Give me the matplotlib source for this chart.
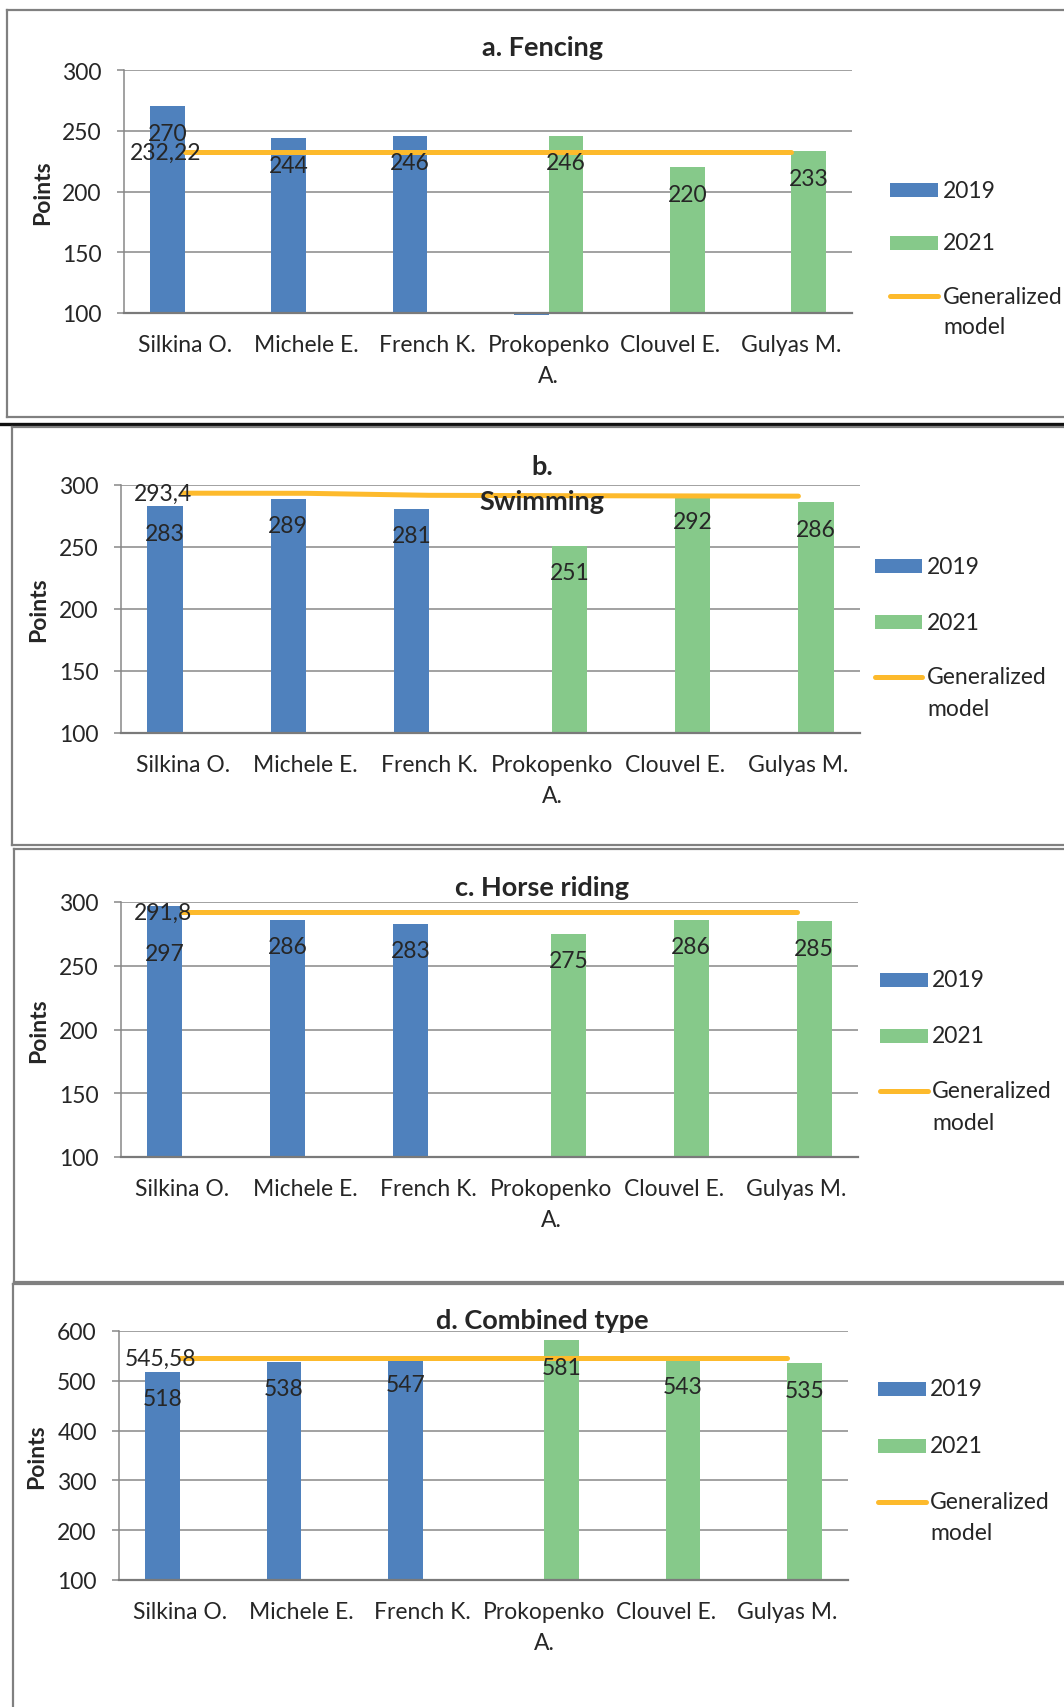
import matplotlib
matplotlib.use('Agg')
import matplotlib.pyplot as plt
import numpy as np
from matplotlib.patches import Rectangle
from matplotlib.lines import Line2D

plt.rcParams['font.family'] = ['Lato', 'DejaVu Sans']

W, H = 1064, 1708

# ---------------- data ----------------
categories = ['Silkina O.', 'Michele E.', 'French K.', 'Prokopenko\nA.', 'Clouvel E.', 'Gulyas M.']
legend_labels = ['2019', '2021', 'Generalized\nmodel']
nan = np.nan

fencing_2019 = [270, 244, 246, 98, nan, nan]
fencing_2021 = [nan, nan, nan, 246, 220, 233]
fencing_model = [232.22, 232.22, 232.22, 232.22, 232.22, 232.22]

swimming_2019 = [283, 289, 281, nan, nan, nan]
swimming_2021 = [nan, nan, nan, 251, 292, 286]
swimming_model = [293.4, 293.3, 291.7, 291.4, 291.2, 291.0]

horse_2019 = [297, 286, 283, nan, nan, nan]
horse_2021 = [nan, nan, nan, 275, 286, 285]
horse_model = [291.8, 291.8, 291.8, 291.8, 291.8, 291.8]

combined_2019 = [518, 538, 547, nan, nan, nan]
combined_2021 = [nan, nan, nan, 581, 543, 535]
combined_model = [545.58, 545.58, 545.58, 545.58, 545.58, 545.58]

model_labels = ['232,22', '293,4', '291,8', '545,58']
titles = ['a. Fencing', 'b.\nSwimming', 'c. Horse riding', 'd. Combined type']
yticks_small = [100, 150, 200, 250, 300]
yticks_big = [100, 200, 300, 400, 500, 600]

# ---------------- style ----------------
BLUE = '#4F81BD'
GREEN = '#86C98A'
GOLD = '#FDBA2C'
GRID = '#878787'
TXT = '#262626'
BORDER = '#808080'
FS = 16.5
TFS = 19.5

fig = plt.figure(figsize=(W / 100, H / 100), dpi=100)
fig.patch.set_facecolor('white')

def fx(x):
    return x / W

def fy(y):
    return 1 - y / H

# panel frames
def frame(x0, y0, x1, y1, color=BORDER, lw=1.6):
    fig.add_artist(Line2D([fx(x0), fx(x1)], [fy(y0), fy(y0)], transform=fig.transFigure, color=color, lw=lw))
    fig.add_artist(Line2D([fx(x0), fx(x1)], [fy(y1), fy(y1)], transform=fig.transFigure, color=color, lw=lw))
    fig.add_artist(Line2D([fx(x0), fx(x0)], [fy(y0), fy(y1)], transform=fig.transFigure, color=color, lw=lw))

frame(7, 11, 1070, 418)
fig.add_artist(Line2D([0, 1], [fy(425), fy(425)], transform=fig.transFigure, color='#111111', lw=2.4))
frame(12, 428, 1070, 846)
frame(14, 850, 1070, 1283)
frame(13, 1285, 1070, 1720)

panels = [
    dict(v19=fencing_2019, v21=fencing_2021, model=fencing_model, ml=model_labels[0], title=titles[0],
         box=(124, 71, 852, 314), ylim=(100, 300), yt=yticks_small,
         leg=(890, 938, 943, [191, 244, 297]), title_y=[48], pts_x=43, overrides={}),
    dict(v19=swimming_2019, v21=swimming_2021, model=swimming_model, ml=model_labels[1], title=titles[1],
         box=(121, 486, 860, 734), ylim=(100, 300), yt=yticks_small,
         leg=(875, 922, 927, [567, 623, 678]), title_y=[467, 502], pts_x=39, overrides={}),
    dict(v19=horse_2019, v21=horse_2021, model=horse_model, ml=model_labels[2], title=titles[2],
         box=(121, 903, 858, 1158), ylim=(100, 300), yt=yticks_small,
         leg=(880, 928, 932, [981, 1037, 1092]), title_y=[888], pts_x=39, overrides={(0, 0): -48}),
    dict(v19=combined_2019, v21=combined_2021, model=combined_model, ml=model_labels[3], title=titles[3],
         box=(119, 1332, 848, 1581), ylim=(100, 600), yt=yticks_big,
         leg=(878, 926, 930, [1390, 1447, 1503]), title_y=[1321], pts_x=37, overrides={}),
]

bw = 0.285
x = np.arange(len(categories))

for p in panels:
    l, t, r, b = p['box']
    ax = fig.add_axes([fx(l), fy(b), (r - l) / W, (b - t) / H])
    ax.set_facecolor('none')
    lo, hi = p['ylim']
    ax.set_ylim(lo, hi)
    ax.set_xlim(-0.5, len(categories) - 0.5)

    for si, (vals, col, off) in enumerate([(p['v19'], BLUE, -bw / 2), (p['v21'], GREEN, bw / 2)]):
        v = np.array(vals, dtype=float)
        m = ~np.isnan(v)
        ax.bar(x[m] + off, v[m] - lo, bottom=lo, width=bw, color=col, zorder=2, clip_on=False)
        for xi, vi in zip(x[m], v[m]):
            if vi <= lo:
                continue
            dy = p['overrides'].get((xi, si), -27)
            ax.annotate(f'{int(vi)}', (xi + off, vi), xytext=(0, dy), textcoords='offset pixels',
                        ha='center', va='center', fontsize=FS, color=TXT, zorder=5)

    ax.plot(x, p['model'], color=GOLD, lw=3.6, solid_capstyle='round', zorder=3)
    ax.annotate(p['ml'], (x[0] - 0.155, p['model'][0]), ha='center', va='center',
                fontsize=FS, color=TXT, zorder=5)

    ax.set_yticks(p['yt'])
    ax.set_xticks(x)
    ax.set_xticklabels(categories, fontsize=FS, color=TXT, linespacing=1.62)
    ax.tick_params(axis='x', length=0, pad=15)
    ax.tick_params(axis='y', length=5, width=1.1, color=GRID, pad=11, labelsize=FS, labelcolor=TXT, direction='out')
    ax.grid(axis='y', color=GRID, lw=1.1, zorder=0)
    ax.set_axisbelow(True)
    for s in ['top', 'right']:
        ax.spines[s].set_visible(False)
    ax.spines['left'].set_color(GRID)
    ax.spines['left'].set_linewidth(1.1)
    ax.spines['bottom'].set_color('#7a7a7a')
    ax.spines['bottom'].set_linewidth(1.6)
    ax.spines['bottom'].set_zorder(4)

    # y label
    fig.text(fx(p['pts_x']), fy((t + b) / 2), 'Points', rotation=90, fontsize=FS, fontweight='bold',
             ha='center', va='center', color=TXT)

    # title
    if len(p['title_y']) == 1:
        fig.text(fx(542), fy(p['title_y'][0]), p['title'], fontsize=TFS, fontweight='bold',
                 ha='center', va='center', color=TXT)
    else:
        parts = p['title'].split('\n')
        for txt, yy in zip(parts, p['title_y']):
            fig.text(fx(542), fy(yy), txt, fontsize=TFS, fontweight='bold',
                     ha='center', va='center', color=TXT, zorder=10)

    # legend
    x0, x1, tx, rows = p['leg']
    for (lab, col), yy in zip([(legend_labels[0], BLUE), (legend_labels[1], GREEN)], rows[:2]):
        fig.add_artist(Rectangle((fx(x0), fy(yy + 7)), (x1 - x0) / W, 14 / H, transform=fig.transFigure,
                                 facecolor=col, edgecolor='none'))
        fig.text(fx(tx), fy(yy), lab, fontsize=FS, ha='left', va='center', color=TXT)
    yy = rows[2]
    fig.add_artist(Line2D([fx(x0), fx(x1)], [fy(yy), fy(yy)], transform=fig.transFigure, color=GOLD,
                          lw=3.6, solid_capstyle='round'))
    lines = legend_labels[2].split('\n')
    fig.text(fx(tx), fy(yy), lines[0], fontsize=FS, ha='left', va='center', color=TXT)
    fig.text(fx(tx), fy(yy + 31), lines[1], fontsize=FS, ha='left', va='center', color=TXT)

fig.savefig('out.png', dpi=100, facecolor='white')
